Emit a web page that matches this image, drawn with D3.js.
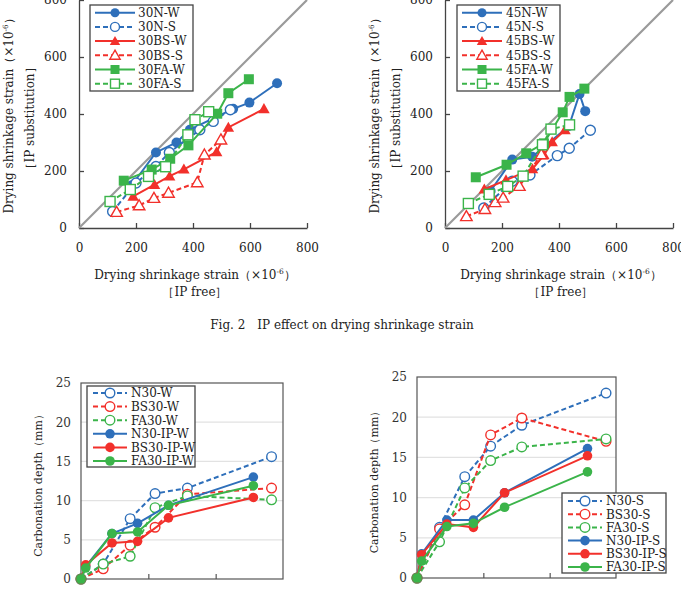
<!DOCTYPE html>
<html>
<head>
<meta charset="utf-8">
<script src="https://cdn.jsdelivr.net/npm/d3@7"></script>
<style>
  body { margin: 0; background: #fff; }
  svg { display: block; font-family: "DejaVu Serif", "Liberation Serif", serif; }
</style>
</head>
<body>
<svg id="fig" width="681" height="589"></svg>
<script>
// ---- drying shrinkage, IP free (x) vs IP substitution (y), x10^-6 ----
const n30W  = [[185,150],[270,265],[342,300],[389,345],[541,418],[598,440],[695,508]];
const n30S  = [[118,58],[200,158],[270,216],[317,265],[424,345],[471,374],[531,415]];
const bs30W = [[190,111],[265,152],[318,182],[368,206],[483,267],[524,353],[649,418]];
const bs30S = [[132,56],[211,79],[263,105],[314,123],[415,160],[440,257],[498,310]];
const fa30W = [[157,166],[255,205],[320,243],[384,290],[485,401],[524,473],[596,522]];
const fa30S = [[109,93],[180,135],[244,181],[304,215],[382,327],[407,380],[455,408]];

const n45W  = [[160,130],[236,240],[306,250],[435,358],[472,470],[492,410]];
const n45S  = [[136,70],[236,164],[298,186],[394,254],[436,280],[510,343]];
const bs45W = [[138,136],[214,168],[307,207],[347,256],[376,302],[421,344]];
const bs45S = [[75,41],[140,66],[176,90],[204,106],[261,147],[338,258]];
const fa45W = [[108,178],[216,222],[285,262],[347,297],[413,406],[437,460],[489,489]];
const fa45S = [[82,86],[155,118],[220,146],[274,182],[342,292],[372,347],[437,362]];

const strainTicks = [0, 200, 400, 600, 800];

// ---- carbonation depth (mm) ----
const tOpenW = [0, 0.33, 0.73, 1.10, 1.58, 2.83];
const tIPW   = [0, 0.07, 0.46, 0.84, 1.30, 2.56];
const n30Wc   = [0, 1.9, 7.7, 10.9, 11.6, 15.6];
const bs30Wc  = [0, 1.3, 4.3, 6.6, 10.8, 11.6];
const fa30Wc  = [0, 1.9, 2.9, 9.1, 10.6, 10.1];
const n30IPW  = [0, 1.6, 5.8, 7.1, 9.4, 13.0];
const bs30IPW = [0, 1.8, 4.6, 4.8, 7.8, 10.4];
const fa30IPW = [0, 1.4, 5.8, 6.0, 9.4, 11.9];

const tOpenS = [0, 0.34, 0.72, 1.11, 1.58, 2.85];
const tIPS   = [0, 0.07, 0.45, 0.85, 1.32, 2.57];
const n30Sc   = [0, 6.3, 12.6, 16.4, 19.0, 23.0];
const bs30Sc  = [0, 6.1, 9.1, 17.8, 19.9, 17.0];
const fa30Sc  = [0, 4.5, 11.2, 14.6, 16.3, 17.3];
const n30IPS  = [0, 3.0, 7.2, 7.2, 10.6, 16.1];
const bs30IPS = [0, 2.9, 6.7, 6.3, 10.6, 15.2];
const fa30IPS = [0, 2.1, 6.4, 6.8, 8.8, 13.2];

const depthTicks = [0, 5, 10, 15, 20, 25];

const blue = "#2e6fba", red = "#f2302b", green = "#3bb44a";
const FONT = "DejaVu Serif";

const svg = d3.select("#fig");

// draw one marker
function marker(g, shape, cx, cy, color, open, s) {
    let m;
    if (shape === "circle") {
        m = g.append("circle").attr("cx", cx).attr("cy", cy).attr("r", s);
    } else if (shape === "square") {
        m = g.append("rect").attr("x", cx - s).attr("y", cy - s)
            .attr("width", 2 * s).attr("height", 2 * s);
    } else {
        const h = s * 1.15;
        m = g.append("path")
            .attr("d", `M${cx},${cy - h}L${cx + h},${cy + h * 0.75}L${cx - h},${cy + h * 0.75}Z`);
    }
    m.attr("fill", open ? "#fff" : color)
     .attr("stroke", open ? color : "none")
     .attr("stroke-width", 1.4);
}

function drawSeries(g, x, y, list, size) {
    const line = d3.line().x(d => x(d[0])).y(d => y(d[1]));
    list.forEach(s => {
        g.append("path")
            .attr("d", line(s.data))
            .attr("fill", "none")
            .attr("stroke", s.color)
            .attr("stroke-width", 2)
            .attr("stroke-dasharray", s.dash ? "5,3" : null);
        s.data.forEach(d => marker(g, s.shape, x(d[0]), y(d[1]), s.color, s.open, size));
    });
}

function legend(list, box, rowY, step, lx0, lx1, tx, size) {
    const g = svg.append("g");
    g.append("rect")
        .attr("x", box[0]).attr("y", box[1]).attr("width", box[2]).attr("height", box[3])
        .attr("fill", "#fff").attr("stroke", "#444").attr("stroke-width", 1.3);
    list.forEach((s, i) => {
        const yy = rowY + i * step;
        g.append("line")
            .attr("x1", lx0).attr("x2", lx1).attr("y1", yy).attr("y2", yy)
            .attr("stroke", s.color).attr("stroke-width", 2)
            .attr("stroke-dasharray", s.dash ? "5,3" : null);
        marker(g, s.shape, (lx0 + lx1) / 2, yy, s.color, s.open, size);
        g.append("text")
            .attr("x", tx).attr("y", yy + 4.3)
            .attr("font-size", 12)
            .attr("font-family", FONT)
            .attr("fill", "#222")
            .text(s.name);
    });
}

function yLabel(g, x, y, parts, size) {
    const t = g.append("text")
        .attr("transform", `translate(${x},${y}) rotate(-90)`)
        .attr("text-anchor", "middle")
        .attr("font-size", size)
        .attr("font-family", FONT)
        .attr("fill", "#222");
    parts.forEach(p => {
        const ts = t.append("tspan").text(p.t);
        if (p.sup) ts.attr("font-size", size * 0.6).attr("dy", -size * 0.4);
        if (p.after) ts.attr("dy", size * 0.4);
    });
}

const strainLabel = [
    { t: "Drying shrinkage strain（×10" },
    { t: "-6", sup: true },
    { t: "）", after: true }
];

// ---- top panels: drying shrinkage ----
function strainPanel(x0, series, legBox, legLine, legText) {
    const x = d3.scaleLinear().domain([0, 800]).range([x0, x0 + 228]);
    const y = d3.scaleLinear().domain([0, 800]).range([228, 0]);
    const g = svg.append("g");

    g.append("g")
        .attr("transform", "translate(0,228)")
        .call(d3.axisBottom(x).tickValues(strainTicks).tickSize(-5).tickSizeOuter(0).tickPadding(15));
    g.append("g")
        .attr("transform", `translate(${x0},0)`)
        .call(d3.axisLeft(y).tickValues(strainTicks).tickSize(-5).tickSizeOuter(0).tickPadding(12));
    g.selectAll(".domain, .tick line").attr("stroke", "#444").attr("stroke-width", 1.3);
    g.selectAll(".tick text").attr("font-size", 12).attr("fill", "#222")
        .attr("font-family", FONT);

    // 1:1 reference line
    g.append("line")
        .attr("x1", x(0)).attr("y1", y(0)).attr("x2", x(800)).attr("y2", y(800))
        .attr("stroke", "#9a9a9a").attr("stroke-width", 2.2);

    drawSeries(g, x, y, series, 5);

    legend(series, legBox, 12.7, 14.2, legLine[0], legLine[1], legText, 4.5);

    // axis titles
    const cx = x0 + 116;
    const xt = g.append("text")
        .attr("x", cx).attr("y", 279)
        .attr("text-anchor", "middle").attr("font-size", 12).attr("fill", "#222")
        .attr("font-family", FONT);
    strainLabel.forEach(p => {
        const ts = xt.append("tspan").text(p.t);
        if (p.sup) ts.attr("font-size", 7.5).attr("dy", -5);
        if (p.after) ts.attr("dy", 5);
    });
    g.append("text")
        .attr("x", cx).attr("y", 296)
        .attr("text-anchor", "middle").attr("font-size", 12).attr("fill", "#222")
        .attr("font-family", FONT)
        .text("［IP free］");

    yLabel(g, x0 - 66, 113, strainLabel, 12);
    yLabel(g, x0 - 45, 118, [{ t: "［IP substitution］" }], 12);
}

strainPanel(79, [
    { name: "30N-W",  data: n30W,  color: blue,  shape: "circle",   open: false, dash: false },
    { name: "30N-S",  data: n30S,  color: blue,  shape: "circle",   open: true,  dash: true },
    { name: "30BS-W", data: bs30W, color: red,   shape: "triangle", open: false, dash: false },
    { name: "30BS-S", data: bs30S, color: red,   shape: "triangle", open: true,  dash: true },
    { name: "30FA-W", data: fa30W, color: green, shape: "square",   open: false, dash: false },
    { name: "30FA-S", data: fa30S, color: green, shape: "square",   open: true,  dash: true }
], [90, 5, 103, 86], [95, 135], 138);

strainPanel(445, [
    { name: "45N-W",  data: n45W,  color: blue,  shape: "circle",   open: false, dash: false },
    { name: "45N-S",  data: n45S,  color: blue,  shape: "circle",   open: true,  dash: true },
    { name: "45BS-W", data: bs45W, color: red,   shape: "triangle", open: false, dash: false },
    { name: "45BS-S", data: bs45S, color: red,   shape: "triangle", open: true,  dash: true },
    { name: "45FA-W", data: fa45W, color: green, shape: "square",   open: false, dash: false },
    { name: "45FA-S", data: fa45S, color: green, shape: "square",   open: true,  dash: true }
], [457, 5, 103, 86], [462, 502], 506);

// caption
svg.append("text")
    .attr("x", 342).attr("y", 329)
    .attr("text-anchor", "middle").attr("font-size", 12).attr("fill", "#222")
    .attr("font-family", FONT)
    .text("Fig. 2\u3000IP effect on drying shrinkage strain");

// ---- bottom panels: carbonation depth ----
function depthPanel(x0, x1, yTop, yBot, series, legBox, legRow, legStep, legLine, legText) {
    const x = d3.scaleLinear().domain([0, 3]).range([x0, x1]);
    const y = d3.scaleLinear().domain([0, 25]).range([yBot, yTop]);
    const g = svg.append("g");

    // gridlines
    g.selectAll(".grid").data([5, 10, 15, 20]).join("line")
        .attr("x1", x0).attr("x2", x1)
        .attr("y1", d => y(d)).attr("y2", d => y(d))
        .attr("stroke", "#e2e2e2").attr("stroke-width", 1.2);

    g.append("rect")
        .attr("x", x0).attr("y", yTop).attr("width", x1 - x0).attr("height", yBot - yTop)
        .attr("fill", "none").attr("stroke", "#555").attr("stroke-width", 1.2);

    g.append("g")
        .attr("transform", `translate(0,${yBot})`)
        .call(d3.axisBottom(x).tickValues([1, 2]).tickSize(-5).tickSizeOuter(0).tickFormat(""));
    g.append("g")
        .attr("transform", `translate(${x0},0)`)
        .call(d3.axisLeft(y).tickValues(depthTicks).tickSize(0).tickPadding(10));
    g.selectAll(".domain").remove();
    g.selectAll(".tick line").attr("stroke", "#555").attr("stroke-width", 1.2);
    g.selectAll(".tick text").attr("font-size", 12).attr("fill", "#333")
        .attr("font-family", FONT);

    drawSeries(g, x, y, series.map(s => ({ ...s, data: d3.zip(s.t, s.v) })), 4.8);

    legend(series, legBox, legRow, legStep, legLine[0], legLine[1], legText, 4.8);

    yLabel(g, x0 - 39, (yTop + yBot) / 2 + 2, [{ t: "Carbonation depth（mm）" }], 11);
}

depthPanel(81, 283, 383, 579, [
    { name: "N30-W",    t: tOpenW, v: n30Wc,   color: blue,  shape: "circle", open: true,  dash: true },
    { name: "BS30-W",   t: tOpenW, v: bs30Wc,  color: red,   shape: "circle", open: true,  dash: true },
    { name: "FA30-W",   t: tOpenW, v: fa30Wc,  color: green, shape: "circle", open: true,  dash: true },
    { name: "N30-IP-W", t: tIPW,   v: n30IPW,  color: blue,  shape: "circle", open: false, dash: false },
    { name: "BS30-IP-W",t: tIPW,   v: bs30IPW, color: red,   shape: "circle", open: false, dash: false },
    { name: "FA30-IP-W",t: tIPW,   v: fa30IPW, color: green, shape: "circle", open: false, dash: false }
], [87, 386, 108, 81], 393, 13.6, [93, 127], 131);

depthPanel(417, 616, 377, 578, [
    { name: "N30-S",    t: tOpenS, v: n30Sc,   color: blue,  shape: "circle", open: true,  dash: true },
    { name: "BS30-S",   t: tOpenS, v: bs30Sc,  color: red,   shape: "circle", open: true,  dash: true },
    { name: "FA30-S",   t: tOpenS, v: fa30Sc,  color: green, shape: "circle", open: true,  dash: true },
    { name: "N30-IP-S", t: tIPS,   v: n30IPS,  color: blue,  shape: "circle", open: false, dash: false },
    { name: "BS30-IP-S",t: tIPS,   v: bs30IPS, color: red,   shape: "circle", open: false, dash: false },
    { name: "FA30-IP-S",t: tIPS,   v: fa30IPS, color: green, shape: "circle", open: false, dash: false }
], [562, 493, 104, 80], 501, 13.2, [568, 602], 606);
</script>
</body>
</html>
